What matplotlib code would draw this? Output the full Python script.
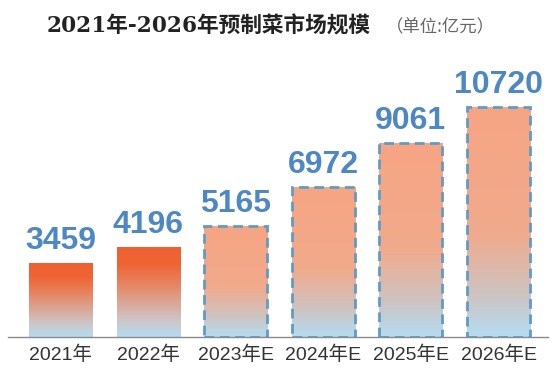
import numpy as np
import matplotlib.pyplot as plt
from matplotlib.colors import LinearSegmentedColormap

# data
years = ["2021年", "2022年", "2023年E", "2024年E", "2025年E", "2026年E"]
values = [3459, 4196, 5165, 6972, 9061, 10720]
estimate = [False, False, True, True, True, True]

title_main = "2021年-2026年预制菜市场规模"
title_unit = "（单位:亿元）"

plt.rcParams['font.family'] = ['Liberation Sans', 'Noto Sans CJK SC', 'DejaVu Sans']

# gradient colour maps (bottom -> top)
cmap_actual = LinearSegmentedColormap.from_list(
    "actual", [(0, "#b4dcf1"), (0.2, "#cfc3c3"), (0.55, "#e48a68"), (0.8, "#ef6434"), (1, "#f06030")])
cmap_est = LinearSegmentedColormap.from_list(
    "est", [(0, "#b4dcf1"), (0.18, "#cdc4c2"), (0.45, "#f1aa8c"), (1, "#f6a583")])

fig = plt.figure(figsize=(5.54, 3.69), dpi=100)
ax = fig.add_axes([8/554, 32/369, 540/554, 277/369])

x = np.arange(len(years))
w = 0.72
bars = ax.bar(x, values, width=w, color='none', edgecolor='none', zorder=2)

grad = np.linspace(0, 1, 256).reshape(-1, 1)
for i, b in enumerate(bars):
    cm = cmap_est if estimate[i] else cmap_actual
    im = ax.imshow(grad, cmap=cm, aspect='auto', origin='lower',
                   extent=(x[i]-w/2, x[i]+w/2, 0, values[i]), zorder=1)
    im.set_clip_path(b)
    if estimate[i]:
        b.set_edgecolor('#5f9bc9')
        b.set_linestyle((0, (3.5, 2)))
        b.set_linewidth(2)
    ax.text(x[i], values[i] + 330, str(values[i]), ha='center', va='bottom',
            fontsize=23, fontweight='bold', color='#4d88c4', zorder=3)

ax.set_xlim(-0.6, 5.565)
ax.set_ylim(0, 12910)
ax.set_xticks(x)
ax.set_xticklabels(years, fontsize=14, color='#333333')
ax.tick_params(axis='x', length=0, pad=6)
ax.set_yticks([])
for s in ['top', 'right', 'left']:
    ax.spines[s].set_visible(False)
ax.spines['bottom'].set_color('#8a8a8a')
ax.spines['bottom'].set_linewidth(1)

fig.text(47/554, 1 - 27/369, title_main, ha='left', va='center', fontsize=15.6,
         fontweight='bold', color='#222222', family=['DejaVu Serif', 'Noto Sans CJK SC'])
fig.text(386/554, 1 - 27/369, title_unit, ha='left', va='center', fontsize=12.5,
         color='#666666', family=['Noto Sans CJK SC', 'DejaVu Sans'])

fig.savefig("out.png", dpi=100)
